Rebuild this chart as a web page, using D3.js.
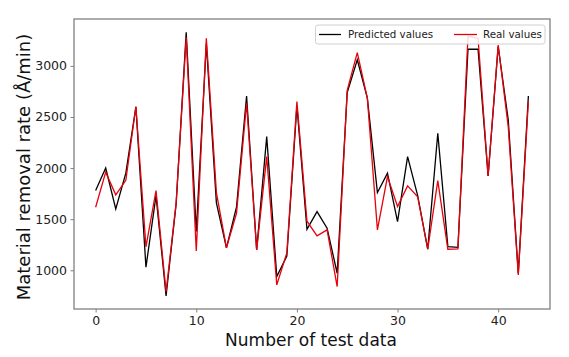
<!DOCTYPE html>
<html><head><meta charset="utf-8">
<script src="https://cdn.jsdelivr.net/npm/d3@7/dist/d3.min.js"></script>
<style>body{margin:0;background:#fff}svg{display:block}</style>
</head><body>
<svg id="c" width="569" height="357"></svg>
<script>
const indices = d3.range(44);
const predicted = [1780,2000,1600,1950,2600,1030,1730,750,1650,3330,1380,3220,1660,1220,1620,2706,1200,2308,938,1140,2610,1400,1574,1412,971,2740,3059,2684,1760,1950,1477,2112,1730,1206,2341,1232,1225,3163,3163,1924,3190,2472,970,2706];
const real = [1617,1960,1738,1880,2600,1230,1780,790,1660,3280,1190,3270,1760,1220,1560,2635,1200,2112,857,1170,2650,1480,1337,1395,841,2760,3130,2684,1395,1917,1624,1826,1720,1206,1878,1206,1210,3290,3270,1924,3205,2406,955,2651];
const xTicks = [0,10,20,30,40];
const yTicks = [1000,1500,2000,2500,3000];
const seriesNames = ["Predicted values","Real values"];

const svg = d3.select("#c");
const L=74, R=550, T=19, B=309;
const all = predicted.concat(real);
const ymin = d3.min(all), ymax = d3.max(all), yr = ymax-ymin;
const x = d3.scaleLinear().domain([-0.05*43, 43*1.05]).range([L,R]);
const y = d3.scaleLinear().domain([ymin-0.05*yr, ymax+0.05*yr]).range([B,T]);

const axisColor="#808080";
const gx = svg.append("g").attr("transform",`translate(0,${B})`)
  .call(d3.axisBottom(x).tickValues(xTicks).tickFormat(d3.format("d")).tickSize(3.5).tickPadding(4));
const gy = svg.append("g").attr("transform",`translate(${L},0)`)
  .call(d3.axisLeft(y).tickValues(yTicks).tickFormat(d3.format("d")).tickSize(3.5).tickPadding(3.5));
[gx,gy].forEach(g=>{
  g.select(".domain").remove();
  g.selectAll(".tick line").attr("stroke",axisColor).attr("stroke-width",1);
  g.selectAll(".tick text").attr("fill","#222").style("font-family","DejaVu Sans").style("font-size","12.5px");
});

const line = d3.line().x((d,i)=>x(indices[i])).y(d=>y(d));
const plot = svg.append("g");
plot.append("path").datum(predicted).attr("d",line).attr("fill","none").attr("stroke","#000").attr("stroke-width",1.3);
plot.append("path").datum(real).attr("d",line).attr("fill","none").attr("stroke","#e8000b").attr("stroke-width",1.3);

svg.append("rect").attr("x",L).attr("y",T).attr("width",R-L).attr("height",B-T)
  .attr("fill","none").attr("stroke",axisColor).attr("stroke-width",1.3);

// legend
const lg = svg.append("g");
lg.append("rect").attr("x",315.5).attr("y",25).attr("width",229.5).attr("height",19).attr("rx",2.5)
  .attr("fill","#fff").attr("fill-opacity",0.85).attr("stroke","#d0d0d0").attr("stroke-width",1);
const items=[{name:seriesNames[0],color:"#000",x0:319,x1:341,tx:348},{name:seriesNames[1],color:"#e8000b",x0:454,x1:477,tx:483}];
items.forEach(it=>{
  lg.append("line").attr("x1",it.x0).attr("x2",it.x1).attr("y1",34.5).attr("y2",34.5).attr("stroke",it.color).attr("stroke-width",1.3);
  lg.append("text").attr("x",it.tx).attr("y",38.3).text(it.name).attr("fill","#222")
    .style("font-family","DejaVu Sans").style("font-size","10.3px");
});

svg.append("text").attr("x",(L+R)/2 - 1).attr("y",345.5).attr("text-anchor","middle")
  .style("font-family","DejaVu Sans").style("font-size","17px").attr("fill","#111").text("Number of test data");
svg.append("text").attr("transform",`translate(29.5,167) rotate(-90)`).attr("text-anchor","middle")
  .style("font-family","DejaVu Sans").style("font-size","18px").attr("fill","#111").text("Material removal rate (Å/min)");
</script>
</body></html>
